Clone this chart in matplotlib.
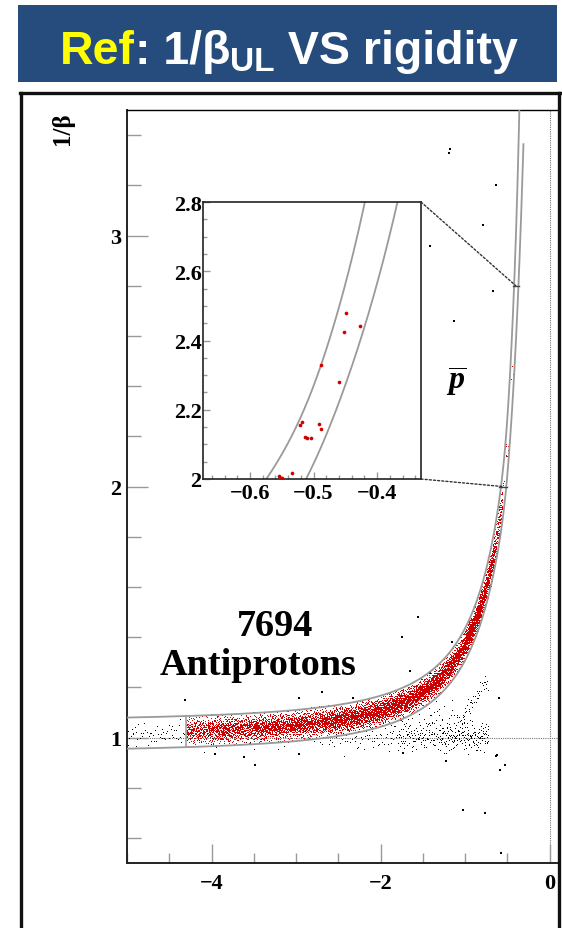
import numpy as np
import matplotlib
matplotlib.use('Agg')
import matplotlib.pyplot as plt
from matplotlib.patches import Rectangle, ConnectionPatch
from matplotlib.lines import Line2D
from matplotlib.ticker import MultipleLocator, FixedLocator, FuncFormatter

plt.rcParams['font.family'] = ['Liberation Serif', 'DejaVu Serif']
plt.rcParams['font.weight'] = 'bold'
plt.rcParams['mathtext.fontset'] = 'custom'
plt.rcParams['mathtext.it'] = 'Liberation Serif:italic:bold'
plt.rcParams['mathtext.rm'] = 'Liberation Serif:bold'

# ---------------- data ----------------
main_xlim = (-5.0, 0.1)
main_ylim = (0.5, 3.5)
inset_xlim = (-0.674, -0.331)
inset_ylim = (2.0, 2.8)

# band centre: R(1/beta) for antiproton mass, with a low-beta correction
mass_p = 0.938
mass_lowbeta = 0.75
shift_lowbeta = -0.11
y_switch = 2.0
# band half-width in 1/beta: hw = hw0 + hw_a * (y - 1.1)^hw_p
hw0, hw_a, hw_p = 0.062, 0.0444, 2.3
band_cut_R = -4.3

# antiproton candidates: counts per rigidity bin
red_edges = [-4.3, -4.0, -3.5, -3.0, -2.5, -2.0, -1.5, -1.0, -0.8, -0.65, -0.56]
red_counts = [330, 700, 850, 950, 1050, 1150, 1250, 800, 450, 148]
red_width_frac = 0.40
red_zmax = 2.5

# individually readable antiprotons (visible in zoom)
red_pts_R = [-0.449, -0.427, -0.452, -0.489, -0.460, -0.491, -0.489, -0.518,
             -0.521, -0.513, -0.510, -0.504, -0.534, -0.555, -0.551, -0.549]
red_pts_y = [2.478, 2.443, 2.425, 2.329, 2.279, 2.158, 2.143, 2.165,
             2.156, 2.120, 2.118, 2.117, 2.018, 2.008, 2.003, 2.002]

# background (rejected) event clusters
blk_R_lo = [-2.6, -1.8, -1.3, -1.9, -5.0, -4.2]
blk_R_hi = [-1.8, -1.3, -0.72, -0.95, -4.32, -2.6]
blk_y_c = [1.0, 1.0, 1.0, 1.07, 1.01, 0.985]
blk_y_s = [0.028, 0.028, 0.028, 0.035, 0.022, 0.02]
blk_n = [70, 100, 170, 70, 55, 35]
streak_R = [-1.05, -0.72]
streak_y = [1.07, 1.23]
streak_n = 40

# isolated background events
iso_R = [-1.18, -1.19, -0.63, -0.79, -1.42, -0.67, -1.13, -1.02, -0.76, -0.58,
         -0.59, -0.53, -3.49, -0.62, -2.69, -2.33, -2.96, -4.31, -1.56, -1.75,
         -1.15, -1.65, -1.42, -0.60, -3.96, -3.61, -2.96, -1.23, -0.63, -1.73]
iso_y = [3.345, 3.33, 3.20, 3.04, 2.96, 2.78, 2.66, 0.71, 0.70, 0.54,
         0.87, 0.89, 0.89, 0.93, 1.18, 1.156, 1.156, 1.148, 1.48, 1.40,
         1.38, 1.264, 1.256, 1.156, 0.936, 0.924, 0.936, 0.908, 0.928, 0.94]

x_major = [-4, -2, 0]
y_major = [1, 2, 3]
inset_x_major = [-0.6, -0.5, -0.4]
inset_y_major = [2.0, 2.2, 2.4, 2.6, 2.8]

title_parts = [("Ref", '#ffff00', 1.0, 0.0), (": 1/β", 'white', 1.0, 0.0),
               ("UL", 'white', 0.72, -0.16), (" VS rigidity", 'white', 1.0, 0.0)]


# ---------------- band geometry ----------------
yg = np.linspace(1.004, 3.9, 6000)
R1 = -mass_p / np.sqrt(yg ** 2 - 1)
R2 = -mass_lowbeta / np.sqrt(yg ** 2 - 1) + shift_lowbeta
wgt = 1.0 / (1.0 + np.exp(-(yg - y_switch) / 0.12))
Rc = (1 - wgt) * R1 + wgt * R2
hw = hw0 + hw_a * np.clip(yg - 1.1, 0, None) ** hw_p
y_up = yg + hw
y_lo = yg - hw


def centre_at(R):
    return np.interp(R, Rc, yg)


def hw_at(R):
    return np.interp(R, Rc, hw)


def upper_at(R):
    return np.interp(R, Rc, y_up)


def lower_at(R):
    return np.interp(R, Rc, y_lo)


def halton(n, base, start):
    i = np.arange(start, start + n)
    res = np.zeros(n)
    f = 1.0
    while np.any(i > 0):
        f /= base
        res += f * (i % base)
        i = i // base
    return res


def gauss(n, start, b1=3, b2=5, zmax=2.6):
    u = halton(n, b1, start)
    v = halton(n, b2, start)
    z = np.sqrt(-2 * np.log(np.clip(u, 1e-6, 1))) * np.cos(2 * np.pi * v)
    return np.clip(z, -zmax, zmax)


# ---- red cloud (deterministic layout of the binned density) ----
n_red = int(sum(red_counts))
cum = np.concatenate([[0], np.cumsum(red_counts)]) / n_red
R_red = np.interp(halton(n_red, 2, 17), cum, red_edges)
z = gauss(n_red, 17, zmax=red_zmax)
y_red = centre_at(R_red) + z * red_width_frac * hw_at(R_red)
keep = y_red < 1.99
R_red, y_red = R_red[keep], y_red[keep]
R_red = np.concatenate([R_red, red_pts_R])
y_red = np.concatenate([y_red, red_pts_y])

# ---- background points ----
bR, bY = [], []
start = 101
for k, (rl, rh, yc, ys, n) in enumerate(zip(blk_R_lo, blk_R_hi, blk_y_c, blk_y_s, blk_n)):
    a = halton(n, 2, start)
    zz = gauss(n, start, 3, 7, 2.8)
    start += n + 13
    rr = rl + (rh - rl) * a
    yy = yc + ys * zz
    if k == 3:
        ok = yy < lower_at(rr) - 0.005
        rr, yy = rr[ok], yy[ok]
    bR.append(rr); bY.append(yy)
a = halton(streak_n, 2, 900)
rr = streak_R[0] + (streak_R[1] - streak_R[0]) * a
yy = streak_y[0] + (streak_y[1] - streak_y[0]) * a + 0.018 * gauss(streak_n, 900, 3, 7, 2.5)
bR.append(rr); bY.append(yy)
bR = np.concatenate(bR); bY = np.concatenate(bY)

# ---------------- figure ----------------
W, H = 562, 929
fig = plt.figure(figsize=(W / 100, H / 100), dpi=100)


def fx(px):
    return px / W


def fy(py):
    return 1 - py / H


# title banner
fig.patches.append(Rectangle((fx(18), fy(83)), fx(557) - fx(18), fy(6) - fy(83),
                             transform=fig.transFigure, facecolor='#264c7e',
                             edgecolor='none', zorder=0))
# outer frame
for (x0, y0, x1, y1) in [(21, 94, 21, 929), (20, 94, 560, 94), (559, 94, 559, 929)]:
    fig.add_artist(Line2D([fx(x0), fx(x1)], [fy(y0), fy(y1)], transform=fig.transFigure,
                          color='#111111', lw=2.4, solid_capstyle='projecting'))

# main axes
ax = fig.add_axes([fx(127), fy(864), fx(558) - fx(127), fy(111) - fy(864)])
ax.set_xlim(*main_xlim)
ax.set_ylim(*main_ylim)
for side in ['left', 'bottom']:
    ax.spines[side].set_linewidth(1.4)
    ax.spines[side].set_color('#222222')
ax.spines['top'].set_linewidth(1.0)
ax.spines['right'].set_visible(False)

ax.xaxis.set_major_locator(FixedLocator(x_major))
ax.xaxis.set_minor_locator(MultipleLocator(0.5))
ax.yaxis.set_major_locator(FixedLocator(y_major))
ax.yaxis.set_minor_locator(MultipleLocator(0.2))
ax.xaxis.set_major_formatter(FuncFormatter(lambda v, p: ('\u2212' if v < 0 else '') + f'{abs(v):g}'))
ax.yaxis.set_major_formatter(FuncFormatter(lambda v, p: f'{v:g}'))
ax.tick_params(axis='x', which='major', direction='in', length=14, width=1, color='#999999',
               labelsize=16, pad=7.5)
ax.tick_params(axis='x', which='minor', direction='in', length=7.2, width=1, color='#999999')
ax.tick_params(axis='y', which='major', direction='in', length=15, width=1, color='#999999',
               labelsize=16, pad=4)
ax.tick_params(axis='y', which='minor', direction='in', length=10, width=1, color='#999999')
for lab in ax.get_xticklabels() + ax.get_yticklabels():
    lab.set_fontweight('bold')

# dotted reference lines
ax.axhline(1.0, color='#777777', lw=0.8, ls=(0, (1, 1)), zorder=1)
ax.axvline(0.0, color='#777777', lw=0.8, ls=(0, (1, 1)), zorder=1)

# points (1-pixel markers, as in the original event display)
ax.plot(bR, bY, linestyle='none', marker=',', color='black', zorder=3)
ax.scatter(iso_R, iso_y, s=1.2, marker='s', c='black', linewidths=0, zorder=3)
ax.plot(R_red, y_red, linestyle='none', marker=',', color='#cc0000', zorder=4)

# band (drawn above the points)
ax.plot(Rc, y_up, color='#9a9a9a', lw=1.3, zorder=5)
ax.plot(Rc, y_lo, color='#9a9a9a', lw=1.3, zorder=5)
ax.plot([band_cut_R, band_cut_R], [lower_at(band_cut_R), upper_at(band_cut_R)],
        color='#9a9a9a', lw=1.1, zorder=5)

# zoom-box markers on the band
ax.plot([-0.43, -0.357], [2.8, 2.8], color='#444444', lw=1.0, zorder=6)
ax.plot([-0.595, -0.50], [2.0, 2.0], color='#444444', lw=1.0, zorder=6)

# texts
fig.text(fx(62), fy(112), '1/β', rotation=90, ha='center', va='top', fontsize=18, fontweight='bold')
fig.text(fx(275), fy(636), '7694', ha='center', va='baseline', fontsize=27.5, fontweight='bold')
fig.text(fx(258), fy(675), 'Antiprotons', ha='center', va='baseline', fontsize=27.5, fontweight='bold')
fig.text(fx(456), fy(382), r'$\overline{p}$', ha='center', va='center', fontsize=23)

# inset
axi = fig.add_axes([fx(203), fy(480), fx(421) - fx(203), fy(203) - fy(480)])
axi.set_xlim(*inset_xlim)
axi.set_ylim(*inset_ylim)
axi.set_facecolor('white')
for sp in axi.spines.values():
    sp.set_linewidth(1.2)
    sp.set_color('#222222')
axi.xaxis.set_major_locator(FixedLocator(inset_x_major))
axi.xaxis.set_minor_locator(MultipleLocator(0.02))
axi.yaxis.set_major_locator(FixedLocator(inset_y_major))
axi.yaxis.set_minor_locator(MultipleLocator(0.05))
axi.xaxis.set_major_formatter(FuncFormatter(lambda v, p: ('\u2212' if v < 0 else '') + f'{abs(v):g}'))
axi.yaxis.set_major_formatter(FuncFormatter(lambda v, p: f'{v:g}'))
axi.tick_params(which='major', direction='in', length=5, width=1, color='#999999', labelsize=16)
axi.tick_params(which='minor', direction='in', length=3, width=1, color='#999999')
axi.tick_params(axis='x', which='major', pad=3)
axi.tick_params(axis='y', which='major', pad=1)
for lab in axi.get_xticklabels() + axi.get_yticklabels():
    lab.set_fontweight('bold')
axi.plot(Rc, y_up, color='#9a9a9a', lw=1.3)
axi.plot(Rc, y_lo, color='#9a9a9a', lw=1.3)
axi.scatter(R_red, y_red, s=7, marker='o', c='#d00000', linewidths=0, zorder=4)

# connectors
for (xa, ya), (xb, yb) in [((1, 1), (-0.40, 2.8)), ((1, 0), (-0.56, 2.0))]:
    cp = ConnectionPatch(xyA=(xa, ya), coordsA=axi.transAxes, xyB=(xb, yb), coordsB=ax.transData,
                         color='#333333', lw=1.0, ls=(0, (1.5, 1.5)))
    fig.add_artist(cp)

# title text pieces
fig.canvas.draw()
renderer = fig.canvas.get_renderer()
x_cur = fx(60)
base_y = fy(63.5)
for txt, col, scale, dy in title_parts:
    t = fig.text(x_cur, base_y + dy * 33.5 / 72 * 100 / H, txt, color=col,
                 fontsize=33.5 * scale, fontweight='bold', ha='left', va='baseline',
                 family=['Liberation Sans', 'DejaVu Sans'])
    bb = t.get_window_extent(renderer=renderer)
    x_cur = bb.x1 / W

fig.savefig('out.png', dpi=100)
